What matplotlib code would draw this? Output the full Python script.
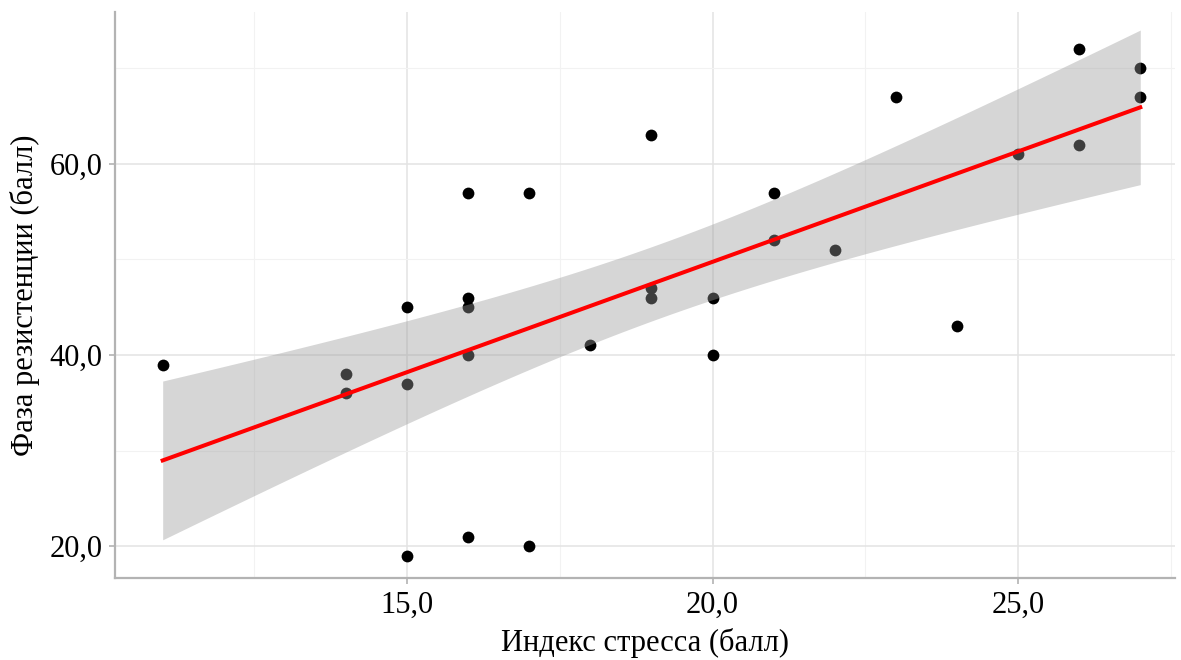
import numpy as np
import matplotlib.pyplot as plt
from matplotlib.ticker import MultipleLocator, FuncFormatter

# индекс стресса / фаза резистенции
stress = [11, 14, 14, 15, 15, 15, 16, 16, 16, 16, 16, 17, 17, 18, 19, 19, 19,
          20, 20, 21, 21, 22, 23, 24, 25, 26, 26, 27, 27]
resist = [39, 38, 36, 45, 37, 19, 57, 46, 45, 40, 21, 57, 20, 41, 63, 47, 46,
          46, 40, 57, 52, 51, 67, 43, 61, 72, 62, 70, 67]

x = np.array(stress, dtype=float)
y = np.array(resist, dtype=float)

# линейная регрессия и 95% доверительный интервал
n = len(x)
b, a = np.polyfit(x, y, 1)
xs = np.linspace(x.min(), x.max(), 80)
ys = a + b * xs
resid = y - (a + b * x)
s = np.sqrt(np.sum(resid ** 2) / (n - 2))
sxx = np.sum((x - x.mean()) ** 2)
se = s * np.sqrt(1 / n + (xs - x.mean()) ** 2 / sxx)
t = 2.0518  # t(0.975, df=27)

plt.rcParams['font.family'] = ['Liberation Serif', 'DejaVu Serif']

fig = plt.figure(figsize=(11.81, 6.6), dpi=100)
ax = fig.add_axes([0.0974, 0.124, 0.8976, 0.858])

ax.scatter(x, y, s=72, color='black', zorder=2, linewidths=0)
ax.fill_between(xs, ys - t * se, ys + t * se, color='#999999', alpha=0.4,
                linewidth=0, zorder=3)
ax.plot(xs, ys, color='red', lw=2.9, zorder=4)

ax.set_xlim(10.22, 27.57)
ax.set_ylim(16.65, 75.9)
ax.xaxis.set_major_locator(MultipleLocator(5))
ax.xaxis.set_minor_locator(MultipleLocator(2.5))
ax.yaxis.set_major_locator(MultipleLocator(20))
ax.yaxis.set_minor_locator(MultipleLocator(10))
fmt = FuncFormatter(lambda v, p: f'{v:.1f}'.replace('.', ','))
ax.xaxis.set_major_formatter(fmt)
ax.yaxis.set_major_formatter(fmt)

ax.grid(which='major', color='#E3E3E3', lw=1.1, zorder=0)
ax.grid(which='minor', color='#F2F2F2', lw=0.8, zorder=0)
ax.set_axisbelow(True)

for side in ['top', 'right']:
    ax.spines[side].set_visible(False)
for side in ['left', 'bottom']:
    ax.spines[side].set_color('#B3B3B3')
    ax.spines[side].set_linewidth(1.6)
ax.tick_params(which='major', length=4, width=1.2, color='#B3B3B3',
               labelsize=22, labelcolor='black', pad=5)
ax.tick_params(which='minor', length=0)

ax.set_xlabel('Индекс стресса (балл)', fontsize=22, labelpad=6)
ax.set_ylabel('Фаза резистенции (балл)', fontsize=22, labelpad=7)

fig.savefig('out.png', dpi=100)
